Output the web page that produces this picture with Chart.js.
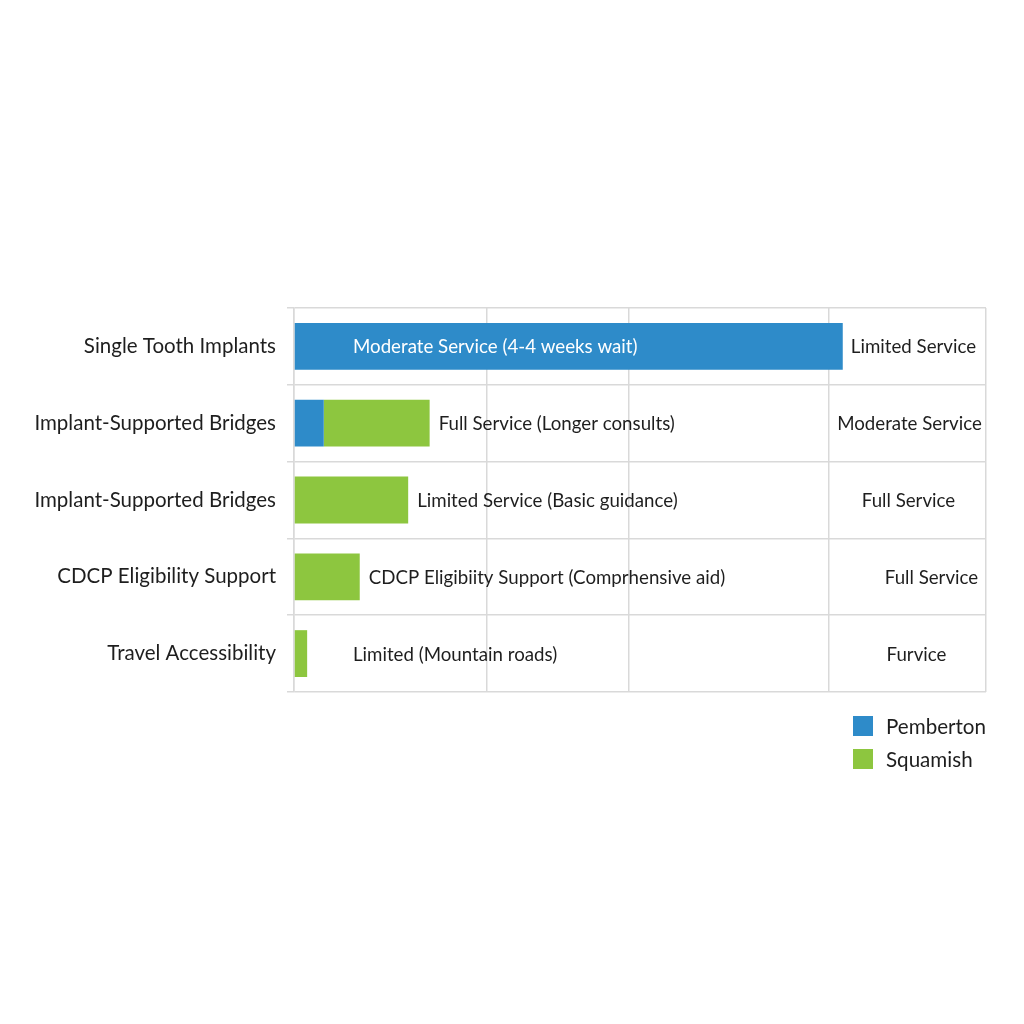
<!DOCTYPE html>
<html>
<head>
<meta charset="utf-8">
<script src="https://cdn.jsdelivr.net/npm/chart.js@4/dist/chart.umd.min.js"></script>
<style>
    html, body { margin: 0; padding: 0; background: #fff; }
    #wrap { position: relative; width: 1024px; height: 1024px; }
    #legend { position: absolute; left: 853px; top: 709px; font-family: Lato, sans-serif; font-size: 20.6px; color: #1e1e1e; }
    #legend div { display: flex; align-items: center; height: 33px; }
    #legend span.box { width: 20px; height: 20px; margin-right: 13px; display: inline-block; }
</style>
</head>
<body>
<div id="wrap">
    <canvas id="chart" width="1024" height="1024"></canvas>
    <div id="legend"></div>
</div>
<script>
// categories and values (share of scale, 0-100)
const categories = ['Single Tooth Implants', 'Implant-Supported Bridges', 'Implant-Supported Bridges', 'CDCP Eligibility Support', 'Travel Accessibility'];
const pemberton = [79.3, 4.3, 0, 0, 0];
const squamish = [0, 15.3, 16.5, 9.5, 1.9];
const barLabels = ['Moderate Service (4-4 weeks wait)', 'Full Service (Longer consults)', 'Limited Service (Basic guidance)', 'CDCP Eligibiity Support (Comprhensive aid)', 'Limited (Mountain roads)'];
const rightLabels = ['Limited Service', 'Moderate Service', 'Full Service', 'Full Service', 'Furvice'];
const gridTicks = [0, 27.9, 48.4, 77.3, 100];

const FONT = 'Lato, sans-serif';
const BLUE = '#2e8bc9';
const GREEN = '#8dc63f';

const labelPlugin = {
    id: 'barText',
    afterDatasetsDraw(chart) {
        const ctx = chart.ctx;
        const xs = chart.scales.x;
        const ys = chart.scales.y;
        const left = chart.chartArea.left;
        const nudge = [6, 2, 1, 24, 9];
        ctx.save();
        ctx.font = '18.7px ' + FONT;
        ctx.textBaseline = 'middle';
        categories.forEach((c, i) => {
            const y = ys.getPixelForValue(i) + 1;
            const end = xs.getPixelForValue(pemberton[i] + squamish[i]);
            const w = ctx.measureText(barLabels[i]).width;
            const start = left + 59;
            ctx.textAlign = 'left';
            if (end - start > w + 10) {
                ctx.fillStyle = '#fff';
                ctx.fillText(barLabels[i], start, y);
            } else {
                ctx.fillStyle = '#1e1e1e';
                ctx.fillText(barLabels[i], Math.max(end + 9, start), y);
            }
            ctx.textAlign = 'center';
            ctx.fillStyle = '#1e1e1e';
            ctx.fillText(rightLabels[i], xs.getPixelForValue(88.65) + nudge[i], y);
        });
        ctx.restore();
    }
};

const chart = new Chart(document.getElementById('chart'), {
    type: 'bar',
    data: {
        labels: categories,
        datasets: [
            { label: 'Pemberton', data: pemberton, backgroundColor: BLUE },
            { label: 'Squamish', data: squamish, backgroundColor: GREEN }
        ]
    },
    options: {
        indexAxis: 'y',
        responsive: false,
        animation: false,
        categoryPercentage: 1,
        barPercentage: 0.61,
        layout: { padding: { top: 308, right: 38, bottom: 332, left: 0 } },
        plugins: {
            legend: { display: false },
            tooltip: { enabled: false }
        },
        scales: {
            x: {
                stacked: true,
                min: 0,
                max: 100,
                afterBuildTicks: (scale) => { scale.ticks = gridTicks.map(v => ({ value: v })); },
                ticks: { display: false },
                grid: { color: '#d9d9d9', lineWidth: 1.5, drawTicks: false },
                border: { display: false }
            },
            y: {
                stacked: true,
                afterFit: (scale) => { scale.width = 294; },
                ticks: { color: '#1e1e1e', font: { family: FONT, size: 20.5 }, padding: 11 },
                grid: { color: '#d9d9d9', lineWidth: 1.5, offset: true, tickLength: 7 },
                border: { color: '#d9d9d9', width: 1.5 }
            }
        }
    },
    plugins: [labelPlugin]
});

document.getElementById('legend').innerHTML = chart.data.datasets.map(d => `
    <div><span class="box" style="background:${d.backgroundColor}"></span>${d.label}</div>
`).join('');
</script>
</body>
</html>
